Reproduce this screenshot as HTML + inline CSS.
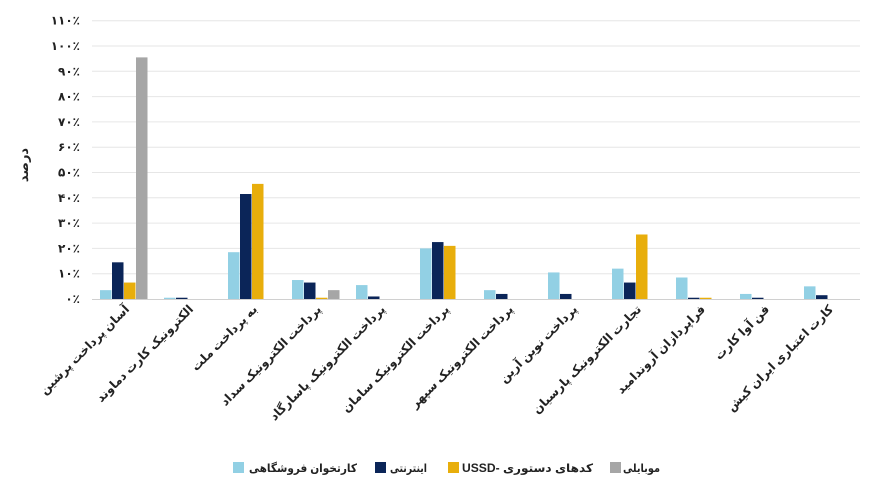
<!DOCTYPE html>
<html><head><meta charset="utf-8"><style>
body{margin:0;background:#fff}
svg{display:block;font-family:"Liberation Sans","DejaVu Sans",sans-serif}
</style></head><body>
<svg width="888" height="488" viewBox="0 0 888 488" xmlns="http://www.w3.org/2000/svg">
<g id="grid" stroke="#e6e6e6" stroke-width="1"></g>
<g id="ylab" font-size="12" font-weight="bold" fill="#222" text-anchor="end"></g>
<text x="28" y="165" transform="rotate(-90 28 165)" font-size="13" font-weight="bold" text-anchor="middle" fill="#222">درصد</text>
<g id="bars"></g>
<line x1="92" y1="299.5" x2="860" y2="299.5" stroke="#d0d0d0"/>
<g id="xlab" font-size="12" font-weight="bold" fill="#222" text-anchor="end"></g>
<g font-size="11.5" font-weight="bold" fill="#222">
<rect x="233" y="462" width="11" height="11" fill="#92d0e4"/>
<text x="357" y="472" text-anchor="end" textLength="108" lengthAdjust="spacingAndGlyphs">کارتخوان فروشگاهی</text>
<rect x="375" y="462" width="11" height="11" fill="#0b2558"/>
<text x="427" y="472" text-anchor="end" textLength="37" lengthAdjust="spacingAndGlyphs">اینترنتی</text>
<rect x="448" y="462" width="11" height="11" fill="#e8ae0c"/>
<text x="593" y="472" text-anchor="end" textLength="131" lengthAdjust="spacingAndGlyphs">USSD- کدهای دستوری</text>
<rect x="610" y="462" width="11" height="11" fill="#a6a6a6"/>
<text x="660" y="472" text-anchor="end" textLength="37" lengthAdjust="spacingAndGlyphs">موبایلی</text>
</g>
</svg>
<script>
const ns="http://www.w3.org/2000/svg";
const fa=n=>String(n).replace(/\d/g,d=>"۰۱۲۳۴۵۶۷۸۹"[d]);
const y0=299,step=25.3;
const g=document.getElementById('grid'),yl=document.getElementById('ylab');
for(let i=0;i<=11;i++){const y=y0-i*step;
 if(i>0){const l=document.createElementNS(ns,'line');l.setAttribute('x1',92);l.setAttribute('x2',860);l.setAttribute('y1',y);l.setAttribute('y2',y);g.appendChild(l);}
 const t=document.createElementNS(ns,'text');t.setAttribute('x',80);t.setAttribute('y',y+4);t.textContent=fa(i*10)+"٪";yl.appendChild(t);}
const data=[[3.5,14.5,6.5,95.5],[0.5,0.5,0,0],[18.5,41.5,45.5,0],[7.5,6.5,0.5,3.5],[5.5,1,0,0],[20,22.5,21,0],[3.5,2,0,0],[10.5,2,0,0],[12,6.5,25.5,0],[8.5,0.5,0.5,0],[2,0.5,0,0],[5,1.5,0,0]];
const cols=["#92d0e4","#0b2558","#e8ae0c","#a6a6a6"];
const names=["آسان پرداخت پرشین","الکترونیک کارت دماوند","به پرداخت ملت","پرداخت الکترونیک سداد","پرداخت الکترونیک پاسارگاد","پرداخت الکترونیک سامان","پرداخت الکترونیک سپهر","پرداخت نوین آرین","تجارت الکترونیک پارسیان","فراپردازان  آروندامید","فن آوا کارت","کارت اعتباری ایران  کیش"];
const b=document.getElementById('bars'),xl=document.getElementById('xlab');
data.forEach((d,i)=>{const c=92+64*i+32;
 d.forEach((v,j)=>{if(v<=0)return;const h=v*step/10;const r=document.createElementNS(ns,'rect');
  r.setAttribute('x',c-24+j*12);r.setAttribute('width',11.5);r.setAttribute('y',y0-h);r.setAttribute('height',h);r.setAttribute('fill',cols[j]);b.appendChild(r);});
 const t=document.createElementNS(ns,'text');const x=c+6,y=310;
 t.setAttribute('x',x);t.setAttribute('y',y);t.setAttribute('transform',`rotate(-45 ${x} ${y})`);t.textContent=names[i];xl.appendChild(t);});
</script>
</body></html>
